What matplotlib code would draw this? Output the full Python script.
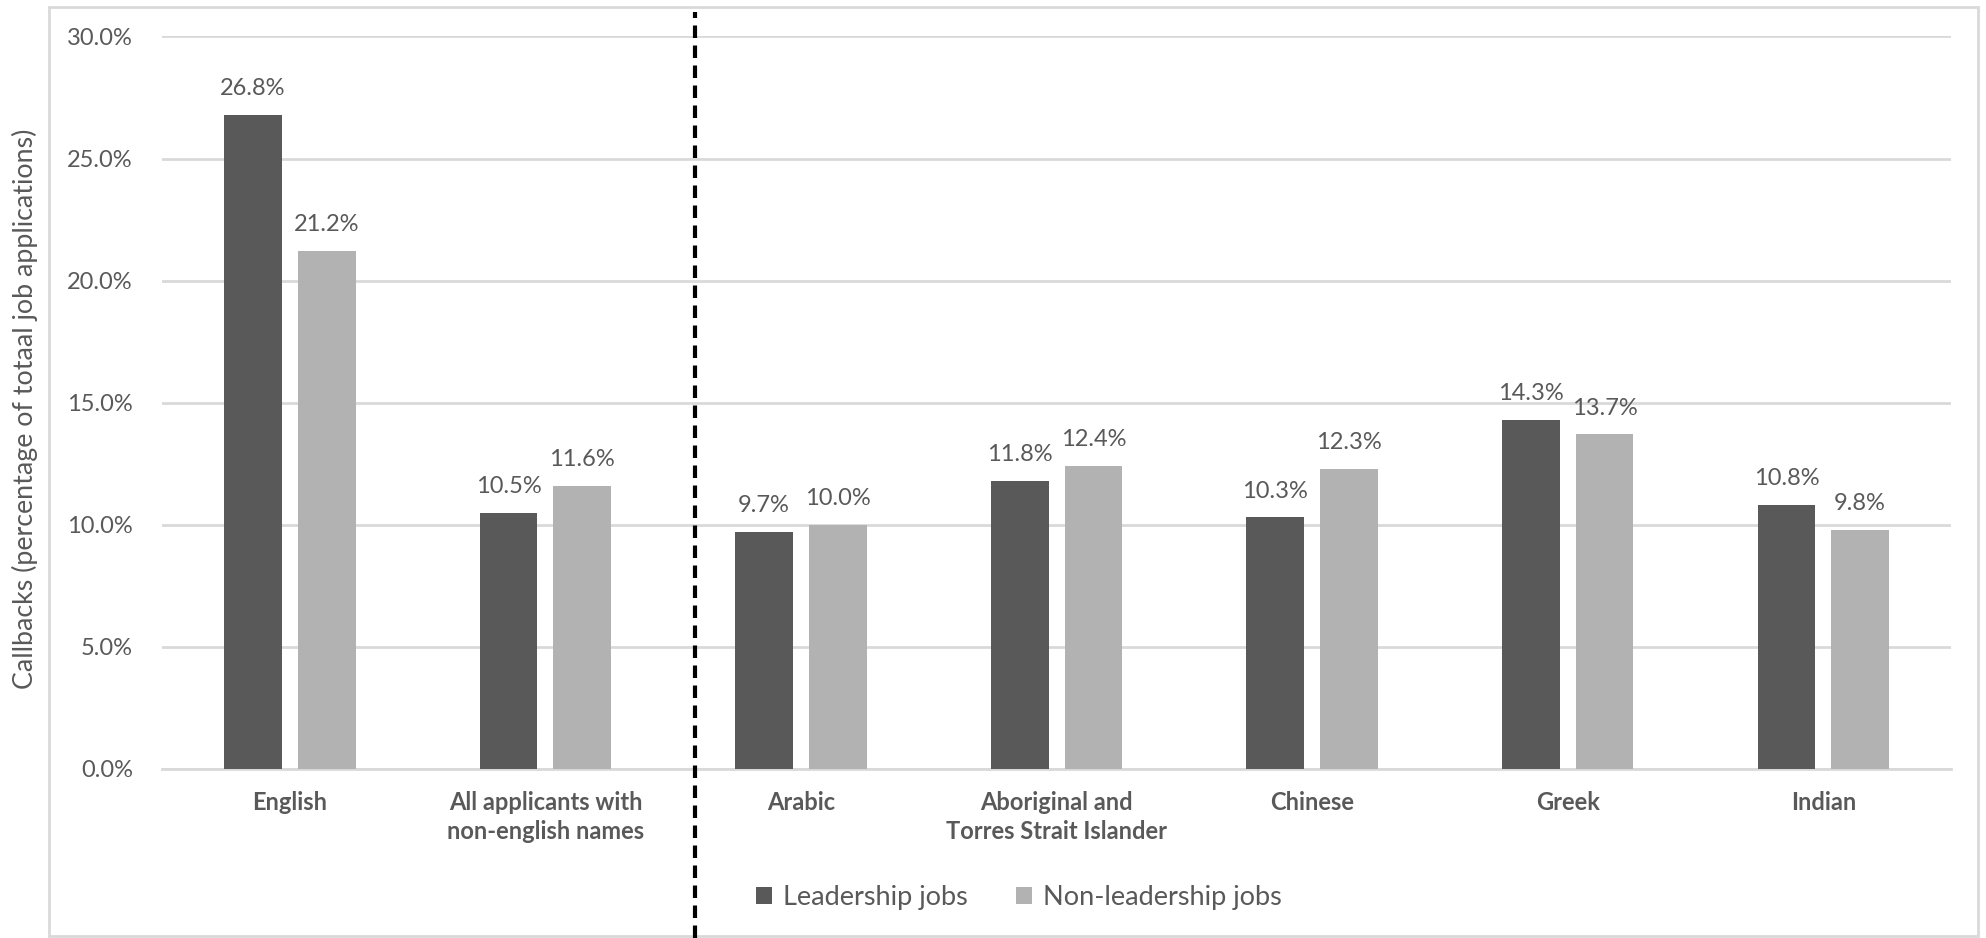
import numpy as np
import matplotlib.pyplot as plt
from matplotlib.patches import Rectangle
from matplotlib.lines import Line2D
import matplotlib.transforms as mtransforms

plt.rcParams['font.family'] = ['Lato', 'DejaVu Sans']

categories = ["English", "All applicants with\nnon-english names", "Arabic",
              "Aboriginal and\nTorres Strait Islander", "Chinese", "Greek", "Indian"]
leadership = [26.8, 10.5, 9.7, 11.8, 10.3, 14.3, 10.8]
non_leadership = [21.2, 11.6, 10.0, 12.4, 12.3, 13.7, 9.8]
series_names = ["Leadership jobs", "Non-leadership jobs"]

dark = "#595959"
light = "#b2b2b2"
text_col = "#595959"
grid_col = "#d9d9d9"

fig = plt.figure(figsize=(19.86, 9.38), dpi=100)
ax = fig.add_axes([0.0816, 0.1802, 0.9008, 0.7809])

x = np.arange(len(categories))
w = 0.226
off = (w + 0.0625) / 2
b1 = ax.bar(x - off, leadership, w, color=dark, label=series_names[0], zorder=3)
b2 = ax.bar(x + off, non_leadership, w, color=light, label=series_names[1], zorder=3)

for bars, vals in ((b1, leadership), (b2, non_leadership)):
    for r, v in zip(bars, vals):
        ax.text(r.get_x() + r.get_width() / 2, v + 0.65, f"{v:.1f}%",
                ha="center", va="bottom", fontsize=17, color=text_col)

ax.set_xlim(-0.5, len(categories) - 0.5)
ax.set_ylim(0, 30)
ax.set_yticks(np.arange(0, 30.1, 5))
ax.set_yticklabels([f"{t:.1f}%" for t in np.arange(0, 30.1, 5)])
ax.set_xticks(x)
ax.set_xticklabels(categories, fontweight="bold")
ax.tick_params(axis="y", length=0, pad=21, labelsize=17, labelcolor=text_col)
ax.tick_params(axis="x", length=0, pad=16, labelsize=17, labelcolor=text_col)
for lbl in ax.get_xticklabels():
    lbl.set_linespacing(1.3)

ax.grid(axis="y", color=grid_col, linewidth=2, zorder=0)
for s in ("top", "right", "left"):
    ax.spines[s].set_visible(False)
ax.spines["bottom"].set_color(grid_col)
ax.spines["bottom"].set_linewidth(2)

fig.text(0.0128, 0.564, "Callbacks (percentage of totaal job applications)",
         rotation=90, ha="center", va="center", fontsize=19.3, color=text_col)

# dashed separator spanning the whole chart box
trans = mtransforms.blended_transform_factory(ax.transData, fig.transFigure)
fig.add_artist(Line2D([1.585, 1.585], [0.0, 0.987], transform=trans,
                      color="black", linewidth=3, linestyle=(0, (3, 1.8))))

# chart border
fig.add_artist(Rectangle((0.0247, 0.002), 0.9713, 0.991, transform=fig.transFigure,
                         fill=False, edgecolor=grid_col, linewidth=2))

leg = fig.legend(handles=[b1, b2], loc="center", bbox_to_anchor=(0.513, 0.043),
                 ncol=2, frameon=False, fontsize=19.5, handlelength=0.6,
                 handleheight=0.6, handletextpad=0.4, columnspacing=1.8)
for t in leg.get_texts():
    t.set_color(text_col)

fig.savefig("out.png", dpi=100)
